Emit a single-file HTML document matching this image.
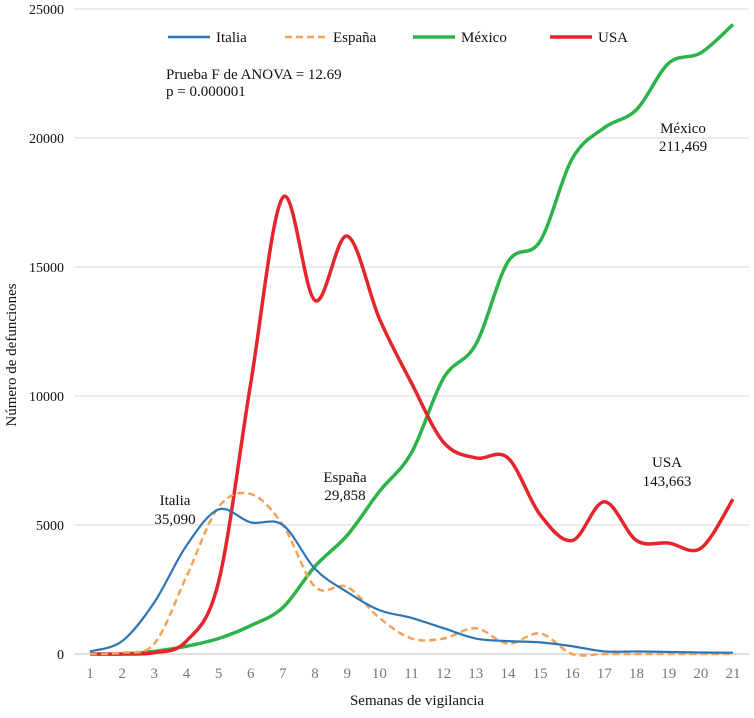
<!DOCTYPE html>
<html><head><meta charset="utf-8"><style>
body{margin:0;background:#fff}
svg{font-family:"Liberation Serif",serif}
</style></head><body>
<svg id="chart" width="754" height="713">
<g id="grid"></g><g id="axes"></g><g id="series"></g>
<g font-size="15" fill="#111">
 <g><line x1="168" y1="37" x2="210" y2="37" stroke="#2e75b6" stroke-width="2.5"/><text x="216" y="42">Italia</text></g>
 <g><line x1="285" y1="37" x2="327" y2="37" stroke="#f4a259" stroke-width="2.5" stroke-dasharray="7,4"/><text x="333" y="42">España</text></g>
 <g><line x1="413" y1="37" x2="455" y2="37" stroke="#2db34a" stroke-width="3.5"/><text x="461" y="42">México</text></g>
 <g><line x1="550" y1="37" x2="592" y2="37" stroke="#e4262c" stroke-width="3.5"/><text x="598" y="42">USA</text></g>
</g>
<g fill="#111" font-size="15">
<text x="166" y="79">Prueba F de ANOVA = 12.69</text>
<text x="166" y="96">p = 0.000001</text>
<text x="683" y="133" text-anchor="middle">México</text>
<text x="683" y="151" text-anchor="middle">211,469</text>
<text x="667" y="467" text-anchor="middle">USA</text>
<text x="667" y="486" text-anchor="middle">143,663</text>
<text x="345" y="482" text-anchor="middle">España</text>
<text x="345" y="500" text-anchor="middle">29,858</text>
<text x="175" y="505" text-anchor="middle">Italia</text>
<text x="175" y="524" text-anchor="middle">35,090</text>
<text x="417" y="705" text-anchor="middle">Semanas de vigilancia</text>
<text transform="translate(16,355) rotate(-90)" text-anchor="middle">Número de defunciones</text>
</g>
</svg>
<script>
const weeks=[1,2,3,4,5,6,7,8,9,10,11,12,13,14,15,16,17,18,19,20,21];
const yTicks=[0,5000,10000,15000,20000,25000];
const italia=[100,500,2000,4200,5600,5100,5000,3300,2400,1700,1400,1000,600,500,450,300,100,100,80,60,50];
const espana=[0,50,400,3000,5700,6200,5000,2600,2600,1400,600,600,1000,400,800,0,0,0,0,0,0];
const mexico=[0,0,100,300,600,1100,1800,3400,4600,6300,7800,10700,12000,15200,16000,19200,20400,21100,22900,23300,24400];
const usa=[0,0,50,500,2800,10500,17700,13700,16200,13000,10500,8200,7600,7600,5400,4400,5900,4400,4300,4100,6000];
const NS='http://www.w3.org/2000/svg';
const x=w=>90+(w-1)*32.15;
const y=v=>654-v*(645/25000);
function mk(t,a,p){const e=document.createElementNS(NS,t);for(const k in a)e.setAttribute(k,a[k]);p.appendChild(e);return e;}
const grid=document.getElementById('grid'),axes=document.getElementById('axes'),ser=document.getElementById('series');
yTicks.forEach(v=>{
 const l=mk('line',{x1:74,x2:749,y1:y(v),y2:y(v),stroke:v===0?'#bfbfbf':'#d9d9d9','stroke-width':1},grid);
 
 
 const t=mk('text',{x:64,y:y(v)+5,'text-anchor':'end','font-size':14,fill:'#111'},axes);t.textContent=v;
 
 
});
weeks.forEach(w=>{
 const t=mk('text',{x:x(w),y:678,'text-anchor':'middle','font-size':15,fill:'#777'},axes);t.textContent=w;
 
 
});
function path(d){
 const p=d.map((v,i)=>[x(weeks[i]),y(v)]);
 let s='M'+p[0][0]+','+p[0][1];
 for(let i=0;i<p.length-1;i++){
  const p0=p[i-1]||p[i],p1=p[i],p2=p[i+1],p3=p[i+2]||p2;
  const c1=[p1[0]+(p2[0]-p0[0])/6,p1[1]+(p2[1]-p0[1])/6];
  const c2=[p2[0]-(p3[0]-p1[0])/6,p2[1]-(p3[1]-p1[1])/6];
  s+=`C${c1[0]},${c1[1]} ${c2[0]},${c2[1]} ${p2[0]},${p2[1]}`;
 }
 return s;
}
[[mexico,'#2db34a',3.5,'','series-mexico'],[usa,'#e4262c',3.5,'','series-usa'],[espana,'#f4a259',2.5,'7,4','series-espana'],[italia,'#2e75b6',2.2,'','series-italia']].forEach(([d,c,w,da,n])=>{
 const e=mk('path',{d:path(d),fill:'none',stroke:c,'stroke-width':w,'stroke-dasharray':da},ser);
 
 
});
</script>
</body></html>
